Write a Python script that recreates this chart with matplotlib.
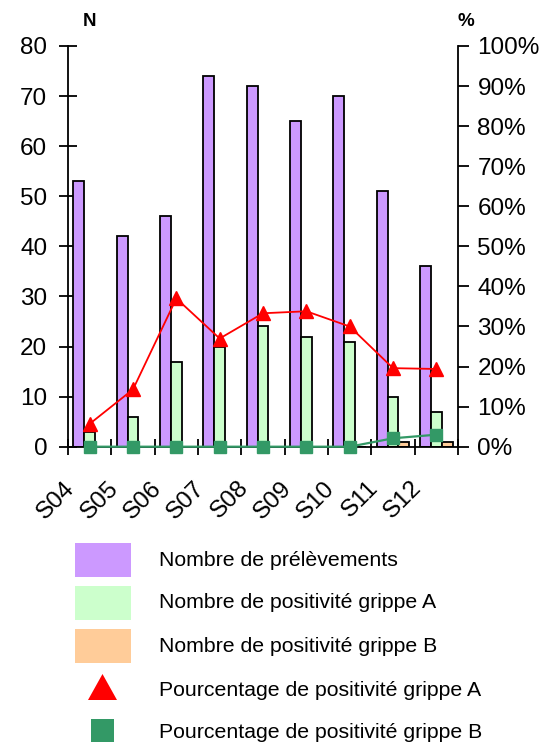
import matplotlib
matplotlib.use("Agg")
import matplotlib.pyplot as plt
import numpy as np
from matplotlib.patches import Rectangle, Polygon
from matplotlib.transforms import ScaledTranslation

plt.rcParams['font.family'] = ['Liberation Sans', 'DejaVu Sans']

weeks = ["S04", "S05", "S06", "S07", "S08", "S09", "S10", "S11", "S12"]
n_prelev = [53, 42, 46, 74, 72, 65, 70, 51, 36]
n_grippe_a = [3, 6, 17, 20, 24, 22, 21, 10, 7]
n_grippe_b = [0, 0, 0, 0, 0, 0, 0, 1, 1]
pct_grippe_a = [5.7, 14.3, 37.0, 27.0, 33.3, 33.8, 30.0, 19.6, 19.4]
pct_grippe_b = [0, 0, 0, 0, 0, 0, 0, 2.1, 3.0]
labels = ["Nombre de prélèvements", "Nombre de positivité grippe A",
          "Nombre de positivité grippe B", "Pourcentage de positivité grippe A",
          "Pourcentage de positivité grippe B"]

W, H = 558, 744
fig = plt.figure(figsize=(W / 100, H / 100), dpi=100)
ax = fig.add_axes([68 / W, 1 - 446.7 / H, (458 - 68) / W, (446.7 - 46) / H])

x = np.arange(len(weeks))
bw = 0.25
c_purple, c_green, c_orange = "#CC99FF", "#CCFFCC", "#FFCC99"
ax.bar(x - bw, n_prelev, bw, color=c_purple, edgecolor="black", linewidth=1.3, zorder=2)
ax.bar(x, n_grippe_a, bw, color=c_green, edgecolor="black", linewidth=1.3, zorder=2)
ax.bar(x + bw, n_grippe_b, bw, color=c_orange, edgecolor="black", linewidth=1.3, zorder=2)

ax.set_xlim(-0.5, len(weeks) - 0.5)
ax.set_ylim(0, 80)
ax.set_yticks(np.arange(0, 81, 10))
ax.tick_params(axis='y', labelsize=17.5, length=13, width=1.3, direction='inout', pad=8.5)
ax.set_xticks(np.arange(-0.5, len(weeks) - 0.4, 1))
ax.set_xticklabels([])
ax.tick_params(axis='x', which='major', direction='inout', length=12, width=1.3)
lab_tr = ax.get_xaxis_transform() + ScaledTranslation(-18 / 100, -38 / 100, fig.dpi_scale_trans)
for xi, wk in zip(x, weeks):
    ax.text(xi, 0, wk, transform=lab_tr, rotation=45, rotation_mode='anchor',
            ha='right', va='center', fontsize=17.5, clip_on=False)
for sp in ['left', 'bottom']:
    ax.spines[sp].set_linewidth(1.3)
ax.spines['top'].set_visible(False)
ax.spines['right'].set_visible(False)

ax2 = ax.twinx()
ax2.set_ylim(0, 100)
ax2.set_yticks(np.arange(0, 101, 10))
ax2.set_yticklabels([f"{v}%" for v in range(0, 101, 10)])
ax2.tick_params(axis='y', labelsize=17.5, length=8, width=1.3, direction='out', pad=6)
for sp in ['left', 'top', 'bottom']:
    ax2.spines[sp].set_visible(False)
ax2.spines['right'].set_linewidth(1.3)
ax2.plot(x, pct_grippe_a, color="#FF0000", marker="^", markersize=10, linewidth=1.3, zorder=4, clip_on=False)
ax2.plot(x, pct_grippe_b, color="#339966", marker="s", markersize=8.5, linewidth=1.6, zorder=5, clip_on=False)

fig.text(90 / W, 1 - 22 / H, "N", fontsize=13.5, fontweight='bold', ha='center', va='center')
fig.text(466 / W, 1 - 22 / H, "%", fontsize=13.5, fontweight='bold', ha='center', va='center')

# legend
rows_y = [560, 603, 646, 690, 733]
for i, (col, yy) in enumerate(zip([c_purple, c_green, c_orange], rows_y[:3])):
    fig.add_artist(Rectangle((75 / W, 1 - (yy + 17) / H), 56 / W, 34 / H,
                             transform=fig.transFigure, facecolor=col, edgecolor='none'))
fig.add_artist(Polygon([[88 / W, 1 - 700 / H], [117 / W, 1 - 700 / H], [102.5 / W, 1 - 674 / H]],
                       closed=True, transform=fig.transFigure, facecolor="#FF0000", edgecolor='none'))
fig.add_artist(Rectangle((90.5 / W, 1 - 742 / H), 23 / W, 23 / H, transform=fig.transFigure,
                         facecolor="#339966", edgecolor='none'))
for lab, yy in zip(labels, rows_y):
    fig.text(159 / W, 1 - yy / H, lab, fontsize=15.3, ha='left', va='center')

fig.savefig("out.png", dpi=100)
